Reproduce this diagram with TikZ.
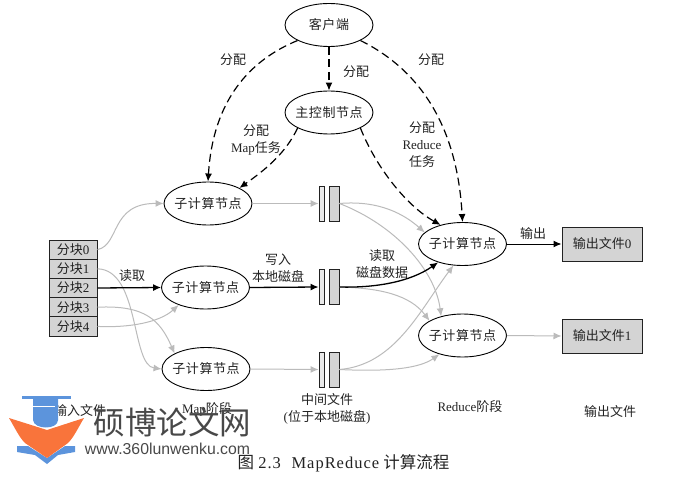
\documentclass[tikz,border=0pt]{standalone}
\usepackage{fontspec}
\usetikzlibrary{shapes.geometric,arrows.meta}
\setmainfont{Liberation Serif}
\setsansfont{Liberation Sans}
\newfontfamily\cjk{Noto Sans CJK SC}
\newfontfamily\cjkwide[LetterSpace=4]{Noto Sans CJK SC}
\newfontfamily\capf[LetterSpace=6]{Liberation Serif}
\newcommand\cj[1]{{\cjk #1}}
\newcommand\cw[1]{\makebox[0pt]{\cjkwide #1}}
\definecolor{lineg}{HTML}{BBBBBB}
\definecolor{boxg}{HTML}{D4D4D4}
\definecolor{ink}{HTML}{222222}
\definecolor{wm}{HTML}{484848}
\definecolor{wb}{HTML}{5C94DC}
\definecolor{wo}{HTML}{F9743B}
\tikzset{
 ell/.style={draw=black,line width=.9pt,ellipse,fill=white,minimum width=88pt,minimum height=43pt,inner sep=0pt,text=ink,font=\fontsize{13}{13}\selectfont},
 lab/.style={text=ink,align=center,inner sep=0pt,font=\fontsize{13}{17}\selectfont},
 splitbox/.style={draw=ink,line width=1pt,fill=boxg,minimum width=48pt,minimum height=19.2pt,inner sep=0pt,text=ink,font=\fontsize{13}{13}\selectfont},
 outbox/.style={draw=ink,line width=1pt,fill=boxg,minimum width=80pt,minimum height=34pt,inner sep=0pt,text=ink,font=\fontsize{13}{13}\selectfont},
 barl/.style={draw=ink,line width=.9pt,fill=boxg!50,minimum width=5pt,minimum height=35pt,inner sep=0pt},
 barr/.style={draw=ink,line width=.9pt,fill=boxg,minimum width=10pt,minimum height=35pt,inner sep=0pt},
 ga/.style={draw=lineg,line width=1pt,-{Latex[length=8pt,width=7pt]}},
 ka/.style={draw=black,line width=1.3pt,-{Latex[length=8pt,width=7pt]}},
 da/.style={draw=black,line width=1.2pt,dash pattern=on 8pt off 4.5pt,-{Latex[length=8pt,width=7pt]}},
}
\begin{document}
\begin{tikzpicture}[x=1pt,y=-1pt]
\useasboundingbox (0,0) rectangle (695,486);
% nodes
\node[ell] (client) at (329,25) {\cw{客户端}};
\node[ell] (master) at (329,112.5) {\cw{主控制节点}};
\node[ell] (n1) at (208,203.5) {\cw{子计算节点}};
\node[ell] (n2) at (205.5,287.5) {\cw{子计算节点}};
\node[ell] (n3) at (206,369) {\cw{子计算节点}};
\node[ell] (r0) at (462.5,244) {\cw{子计算节点}};
\node[ell] (r1) at (462.5,335.5) {\cw{子计算节点}};
\node[splitbox] (s0) at (73,249.6) {\cj{分块}0};
\node[splitbox] (s1) at (73,268.8) {\cj{分块}1};
\node[splitbox] (s2) at (73,288) {\cj{分块}2};
\node[splitbox] (s3) at (73,307.2) {\cj{分块}3};
\node[splitbox] (s4) at (73,326.4) {\cj{分块}4};
\node[outbox] (o0) at (602,244) {\cj{输出文件}0};
\node[outbox] (o1) at (602,336) {\cj{输出文件}1};
\node[barl] (l1) at (321.5,203.5) {};
\node[barr] (b1) at (334,203.5) {};
\node[barl] (l2) at (321.5,287) {};
\node[barr] (b2) at (334,287) {};
\node[barl] (l3) at (321.5,369.5) {};
\node[barr] (b3) at (334,369.5) {};
% dashed
\draw[da] (client.south) -- (master.north);
\draw[da] (client.south west) .. controls (250,60) and (213,100) .. (n1.north);
\draw[da] (client.south east) .. controls (430,75) and (458,140) .. (r0.north);
\draw[da] (master.south west) .. controls (285,155) and (262,172) .. (n1.north east);
\draw[da] (master.south east) .. controls (375,165) and (405,205) .. (r0.139);
% grey
\draw[ga] (s0.east) .. controls (120,245) and (110,203) .. (n1.west);
\draw[ga] (s1.east) .. controls (140,270) and (131,365) .. (n3.west);
\draw[ga] (s3.east) .. controls (145,305) and (160,320) .. (n3.north west);
\draw[ga] (s4.east) .. controls (130,328) and (160,322) .. (n2.213);
\draw[ga] (n1.east) -- (l1.west);
\draw[ga] (n3.east) -- (l3.west);
\draw[ga] (b1.east) .. controls (380,200) and (405,215) .. (r0.163);
\draw[ga] (b1.east) .. controls (395,225) and (435,270) .. (r1.138);
\draw[ga] (b2.east) .. controls (380,288) and (410,295) .. (r1.156);
\draw[ga] (b3.east) .. controls (395,365) and (420,310) .. (r0.247);
\draw[ga] (b3.east) .. controls (390,372) and (420,368) .. (r1.219);
\draw[ga] (r1.east) -- (o1.west);
% black
\draw[ka] (s2.east) -- (n2.west);
\draw[ka] (n2.east) -- (l2.west);
\draw[ka] (b2.east) .. controls (375,288) and (410,282) .. (r0.217);
\draw[ka,line width=1pt] (r0.east) -- (o0.west);
% labels
\node[lab] (a1) at (233,60) {\cj{分配}};
\node[lab] (a2) at (356,72) {\cj{分配}};
\node[lab] (a3) at (431,60) {\cj{分配}};
\node[lab] (a4) at (256,140) {\cj{分配}\\Map\cj{任务}};
\node[lab] (a5) at (422,145) {\cj{分配}\\Reduce\\\cj{任务}};
\node[lab] (a6) at (132,276) {\cj{读取}};
\node[lab] (a7) at (278,268.5) {\cj{写入}\\\cj{本地磁盘}};
\node[lab] (a8) at (382,264) {\cj{读取}\\\cj{磁盘数据}};
\node[lab] (a9) at (533,234) {\cj{输出}};
\node[lab] (c1) at (80,411) {\cj{输入文件}};
\node[lab] (c2) at (207,409) {Map\cj{阶段}};
\node[lab] (c3) at (327,409) {\cj{中间文件}\\(\cj{位于本地磁盘})};
\node[lab] (c4) at (470,407) {Reduce\cj{阶段}};
\node[lab] (c5) at (610,412) {\cj{输出文件}};
\node[lab,font=\fontsize{16.5}{18}\selectfont] (cap) at (343.5,463) {\cj{图} {\capf 2.3\,\, MapReduce} \cj{计算流程}};
% watermark
\fill[wb] (22,396) rectangle (71,399);
\fill[wb] (33,399) -- (58,399) -- (58,420) .. controls (58,430) and (34,430) .. (33,420) -- cycle;
\fill[white] (33,405.5) rectangle (55,406.2);
\fill[wb] (17,446) -- (28,446) -- (47,458) -- (65,446) -- (75,446) -- (75,452) -- (58,455) -- (47,464) -- (35,455) -- (17,452) -- cycle;
\fill[wo] (9,418) -- (47,430) -- (84,418) .. controls (78,428) and (74,437) .. (68,443) -- (47,458) -- (25,443) .. controls (19,437) and (15,428) .. cycle;
\node[text=wm,inner sep=0pt,font=\fontsize{31.5}{32}\selectfont] (wm1) at (172.5,422) {\cj{硕博论文网}};
\node[text=wm,inner sep=0pt,font=\sffamily\fontsize{15.8}{16}\selectfont] (wm2) at (167.5,449) {www.360lunwenku.com};
\end{tikzpicture}
\end{document}
